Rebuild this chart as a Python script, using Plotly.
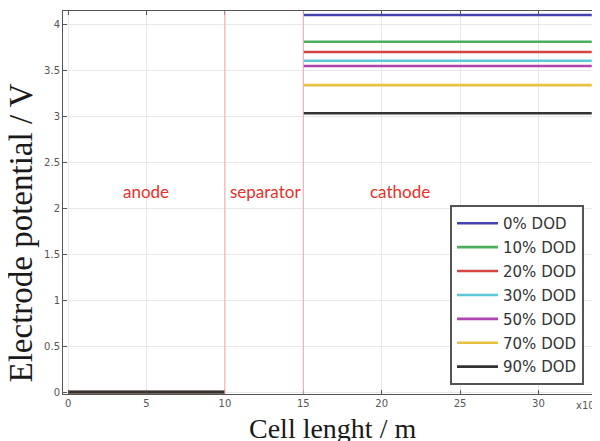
import plotly.graph_objects as go

# ---- data ----
series_names = ["0% DOD", "10% DOD", "20% DOD", "30% DOD", "50% DOD", "70% DOD", "90% DOD"]
cathode_potential = [4.103, 3.813, 3.701, 3.606, 3.549, 3.340, 3.034]
anode_potential = [0.0, 0.0, 0.0, 0.0, 0.0, 0.0, 0.0]
anode_x = [0, 10]
cathode_x = [15, 33.4]
region_boundaries = [10, 15]
region_names = ["anode", "separator", "cathode"]
region_label_x = [4.95, 12.6, 21.2]
region_label_y = 2.18
x_ticks = [0, 5, 10, 15, 20, 25, 30]
y_ticks = [0, 0.5, 1, 1.5, 2, 2.5, 3, 3.5, 4]
y_tick_text = ["0", "0.5", "1", "1.5", "2", "2.5", "3", "3.5", "4"]

colors = ["#4444b0", "#4caf5e", "#d84444", "#5cc8d6", "#b044b0", "#e6c240", "#333333"]

fig = go.Figure()

# cathode lines
for name, v, c in zip(series_names, cathode_potential, colors):
    fig.add_trace(go.Scatter(
        x=cathode_x, y=[v, v], mode="lines", name=name,
        line=dict(color=c, width=2.6), legendgroup=name,
    ))
# anode lines (overlapping at 0 V)
for name, v, c in zip(series_names, anode_potential, colors):
    fig.add_trace(go.Scatter(
        x=anode_x, y=[v, v], mode="lines", name=name,
        line=dict(color=c, width=2.6), legendgroup=name, showlegend=False,
    ))

for b in region_boundaries:
    fig.add_vline(x=b, line=dict(color="#f4a8a8", width=1), layer="above")

for t, xx in zip(region_names, region_label_x):
    fig.add_annotation(x=xx, y=region_label_y, text=t, showarrow=False,
                       font=dict(family="Lato", size=17, color="#e8302a"),
                       xanchor="center", yanchor="middle")

# axis titles
fig.add_annotation(xref="paper", yref="paper", x=-0.0794, y=0.4205,
                   text="Electrode potential / V", textangle=-90, showarrow=False,
                   font=dict(family="Liberation Serif", size=33, color="#1a1a1a"),
                   xanchor="center", yanchor="middle")
fig.add_annotation(xref="paper", yref="paper", x=0.503, y=-0.089,
                   text="Cell lenght / m", showarrow=False,
                   font=dict(family="Liberation Serif", size=28, color="#1a1a1a"),
                   xanchor="center", yanchor="middle")
fig.add_annotation(xref="paper", yref="paper", x=0.955, y=-0.0287,
                   text="x10<sup>-5</sup>", showarrow=False,
                   font=dict(family="DejaVu Sans", size=10, color="#555555"),
                   xanchor="left", yanchor="middle")

axis_common = dict(
    showline=True, linecolor="#555555", linewidth=1, mirror="ticks",
    ticks="inside", ticklen=4, tickcolor="#555555",
    showgrid=True, gridcolor="#e8e8e8", gridwidth=1, zeroline=False,
    tickfont=dict(family="DejaVu Sans", size=10, color="#555555"),
)

fig.update_xaxes(range=[-0.33, 33.8], tickvals=x_ticks, **axis_common)
fig.update_yaxes(range=[-0.02, 4.147], tickvals=y_ticks, ticktext=y_tick_text, **axis_common)

# page body has an 8px margin, so the figure is sized 8px smaller
fig.update_layout(
    width=592, height=433,
    margin=dict(l=55, r=2, t=3, b=47),
    paper_bgcolor="white", plot_bgcolor="white",
    showlegend=True,
    legend=dict(
        x=0.7234, y=0.4935, xanchor="left", yanchor="top",
        bgcolor="white", bordercolor="#555555", borderwidth=2,
        font=dict(family="DejaVu Sans", size=15, color="#333333"),
        tracegroupgap=1.4, itemwidth=41,
    ),
)

fig.write_html("out.html")
